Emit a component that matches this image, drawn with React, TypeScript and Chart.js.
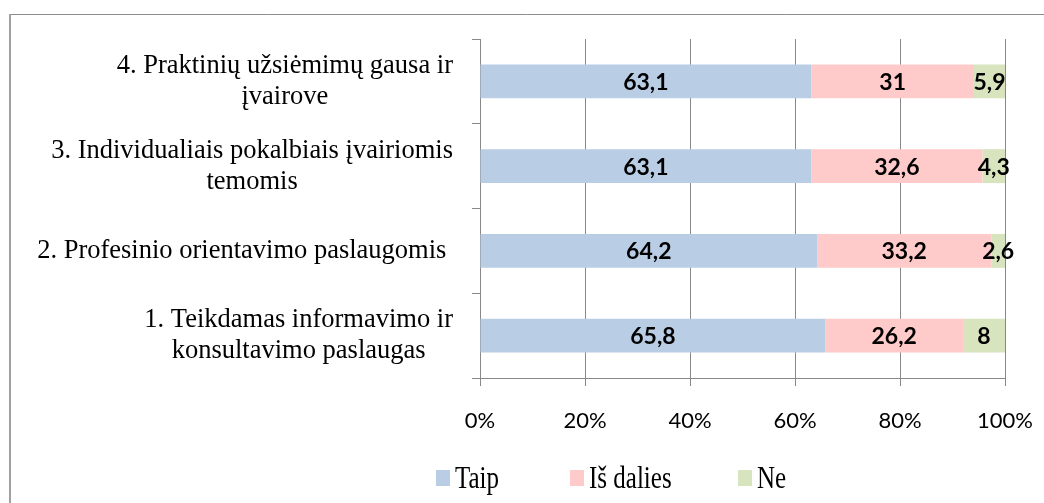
import React, { useEffect, useRef } from "react";
import { Chart, registerables } from "chart.js";

Chart.register(...registerables);

// Categories, top to bottom (each entry is a list of text lines)
const categories: string[][] = [
  ["4. Praktinių užsiėmimų gausa ir", "įvairove"],
  ["3. Individualiais pokalbiais įvairiomis", "temomis"],
  ["2. Profesinio orientavimo paslaugomis "],
  ["1. Teikdamas informavimo ir", "konsultavimo paslaugas"],
];

const seriesNames = ["Taip", "Iš dalies", "Ne"];
const taip = [63.1, 63.1, 64.2, 65.8];
const isDalies = [31, 32.6, 33.2, 26.2];
const ne = [5.9, 4.3, 2.6, 8];

const xTicks = [0, 20, 40, 60, 80, 100];

const colors = ["#B9CDE5", "#FFCACA", "#D7E4BD"];

const SERIF = '"Liberation Serif", "Times New Roman", serif';
const SANS = 'Lato, "Open Sans", sans-serif';

const fmt = (v: number) => String(v).replace(".", ",");

const framePlugin = {
  id: "frame",
  beforeDraw(chart: any) {
    const ctx = chart.ctx;
    ctx.save();
    ctx.strokeStyle = "#8c8c8c";
    ctx.lineWidth = 1;
    ctx.beginPath();
    ctx.moveTo(9, 14.5);
    ctx.lineTo(chart.width, 14.5);
    ctx.stroke();
    ctx.strokeStyle = "#a0a0a0";
    ctx.lineWidth = 2;
    ctx.beginPath();
    ctx.moveTo(10, 14);
    ctx.lineTo(10, chart.height);
    ctx.stroke();
    ctx.restore();
  },
};

const yLabelPlugin = {
  id: "yLabels",
  afterDraw(chart: any) {
    const ctx = chart.ctx;
    const yScale = chart.scales.y;
    const right = chart.chartArea.left - 27;
    const lineH = 31;
    ctx.save();
    ctx.font = `26.5px ${SERIF}`;
    ctx.fillStyle = "#000";
    ctx.textAlign = "center";
    ctx.textBaseline = "middle";
    categories.forEach((lines, i) => {
      const yc = yScale.getPixelForValue(i);
      const w = Math.max(...lines.map((l) => ctx.measureText(l).width));
      const cx = right - w / 2;
      const y0 = yc - ((lines.length - 1) * lineH) / 2;
      lines.forEach((l, j) => ctx.fillText(l, cx, y0 + j * lineH));
    });
    ctx.restore();
  },
};

const dataLabelPlugin = {
  id: "dataLabels",
  afterDatasetsDraw(chart: any) {
    const ctx = chart.ctx;
    ctx.save();
    ctx.font = `bold 23px ${SANS}`;
    ctx.fillStyle = "#000";
    ctx.textAlign = "center";
    ctx.textBaseline = "middle";
    chart.data.datasets.forEach((ds: any, di: number) => {
      const meta = chart.getDatasetMeta(di);
      meta.data.forEach((el: any, i: number) => {
        const x = (el.x + el.base) / 2;
        ctx.fillText(fmt(ds.data[i]), x, el.y + 1);
      });
    });
    ctx.restore();
  },
};

const legendPlugin = {
  id: "customLegend",
  afterDraw(chart: any) {
    const ctx = chart.ctx;
    const starts = [436, 570, 738];
    const yc = 478;
    const bw = 14;
    const bh = 16;
    chart.data.datasets.forEach((ds: any, i: number) => {
      ctx.save();
      ctx.fillStyle = ds.backgroundColor;
      ctx.fillRect(starts[i], yc - bh / 2, bw, bh);
      ctx.translate(starts[i] + bw + 5, yc + 1);
      ctx.scale(1, 1.3);
      ctx.font = `25px ${SERIF}`;
      ctx.textBaseline = "middle";
      ctx.textAlign = "left";
      ctx.fillStyle = "#000";
      ctx.fillText(ds.label, 0, 0);
      ctx.restore();
    });
  },
};

export default function App() {
  const ref = useRef<HTMLCanvasElement | null>(null);
  useEffect(() => {
    if (!ref.current) return;
    const gridColor = "#888888";
    const chart = new Chart(ref.current, {
      type: "bar",
      data: {
        labels: categories,
        datasets: [taip, isDalies, ne].map((d, i) => ({
          label: seriesNames[i],
          data: d,
          backgroundColor: colors[i],
          borderWidth: 0,
          barPercentage: 0.4,
          categoryPercentage: 1,
        })),
      },
      options: {
        indexAxis: "y",
        responsive: false,
        animation: false,
        devicePixelRatio: 1,
        layout: { padding: { left: 0, top: 39, right: 39, bottom: 0 } },
        plugins: {
          legend: { display: false },
          tooltip: { enabled: false },
          title: { display: false },
        },
        scales: {
          x: {
            stacked: true,
            min: 0,
            max: 100,
            afterBuildTicks: (s: any) => {
              s.ticks = xTicks.map((v) => ({ value: v }));
            },
            afterFit: (s: any) => {
              s.height = 125;
            },
            ticks: {
              callback: (v: any) => v + "%",
              font: { family: SANS, size: 22, lineHeight: "70px" },
              color: "#000",
              padding: 0,
              maxRotation: 0,
            },
            grid: { color: gridColor, lineWidth: 1, tickLength: 8, drawTicks: true },
            border: { color: gridColor, width: 1 },
          },
          y: {
            stacked: true,
            afterFit: (s: any) => {
              s.width = 480;
            },
            ticks: { display: false },
            grid: {
              drawOnChartArea: false,
              drawTicks: true,
              tickLength: 8,
              color: gridColor,
              offset: true,
            },
            border: { color: gridColor, width: 1 },
          },
        },
      },
      plugins: [framePlugin, yLabelPlugin, dataLabelPlugin, legendPlugin],
    } as any);
    return () => chart.destroy();
  }, []);
  return (
    <div style={{ position: "absolute", left: 0, top: 0, width: 1044, height: 503, background: "#fff" }}>
      <canvas ref={ref} width={1044} height={503} style={{ display: "block", width: 1044, height: 503 }} />
    </div>
  );
}
